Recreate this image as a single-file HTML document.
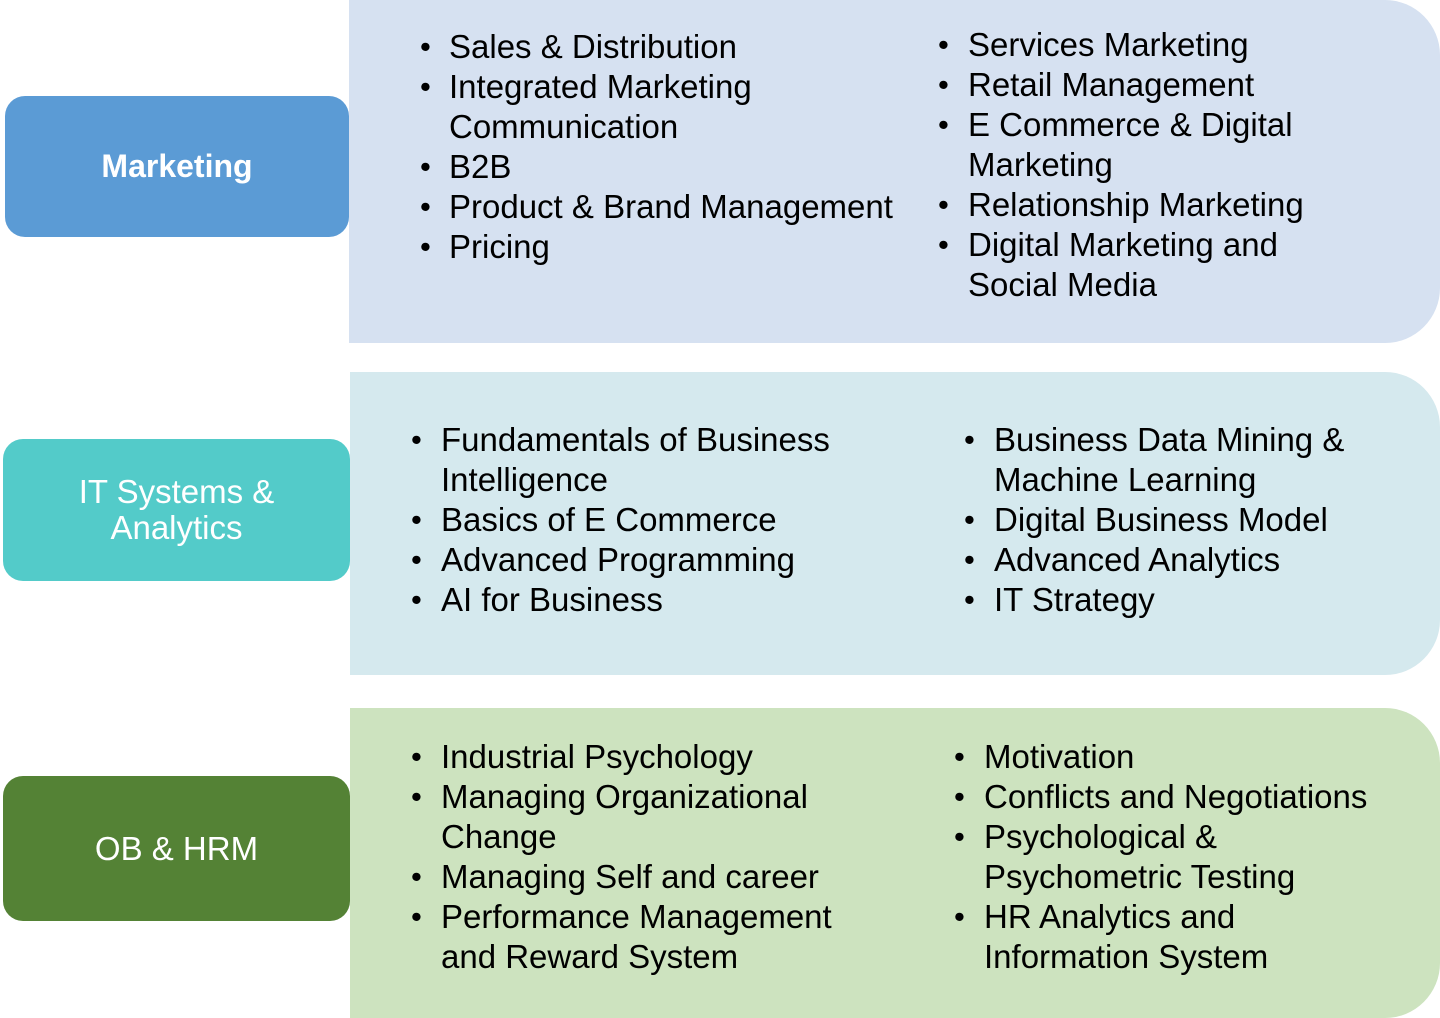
<!DOCTYPE html>
<html><head><meta charset="utf-8"><style>
body{margin:0;width:1440px;height:1018px;position:relative;background:#fff;font-family:"Liberation Sans",Arial,sans-serif;overflow:hidden}
.p{position:absolute}
.l{position:absolute;font-size:33px;line-height:40px;height:40px;white-space:nowrap;color:#000}
.b{position:absolute;font-size:31px;line-height:40px;color:#000}
.h{position:absolute;color:#fff;display:flex;align-items:center;justify-content:center;text-align:center;border-radius:20px}
</style></head><body>
<div class="p" style="left:349px;top:0;width:1091px;height:343px;background:#d6e1f1;border-radius:0 55px 55px 0"></div>
<div class="p" style="left:350px;top:372px;width:1090px;height:303px;background:#d5e9ee;border-radius:0 55px 55px 0"></div>
<div class="p" style="left:350px;top:708px;width:1090px;height:310px;background:#cde3bf;border-radius:0 55px 55px 0"></div>

<div class="h" style="left:5px;top:96px;width:344px;height:141px;background:#5b9bd5;font-size:32px;font-weight:bold">Marketing</div>
<div class="h" style="left:3px;top:439px;width:347px;height:142px;background:#53cbc9;font-size:33px;line-height:36px">IT Systems &amp;<br>Analytics</div>
<div class="h" style="left:3px;top:776px;width:347px;height:145px;background:#548235;font-size:33px">OB &amp; HRM</div>

<div class="b" style="left:420px;top:27px">•</div><div class="l" style="left:449px;top:27px">Sales &amp; Distribution</div>
<div class="b" style="left:420px;top:67px">•</div><div class="l" style="left:449px;top:67px">Integrated Marketing</div>
<div class="l" style="left:449px;top:107px">Communication</div>
<div class="b" style="left:420px;top:147px">•</div><div class="l" style="left:449px;top:147px">B2B</div>
<div class="b" style="left:420px;top:187px">•</div><div class="l" style="left:449px;top:187px">Product &amp; Brand Management</div>
<div class="b" style="left:420px;top:227px">•</div><div class="l" style="left:449px;top:227px">Pricing</div>

<div class="b" style="left:938px;top:25px">•</div><div class="l" style="left:968px;top:25px">Services Marketing</div>
<div class="b" style="left:938px;top:65px">•</div><div class="l" style="left:968px;top:65px">Retail Management</div>
<div class="b" style="left:938px;top:105px">•</div><div class="l" style="left:968px;top:105px">E Commerce &amp; Digital</div>
<div class="l" style="left:968px;top:145px">Marketing</div>
<div class="b" style="left:938px;top:185px">•</div><div class="l" style="left:968px;top:185px">Relationship Marketing</div>
<div class="b" style="left:938px;top:225px">•</div><div class="l" style="left:968px;top:225px">Digital Marketing and</div>
<div class="l" style="left:968px;top:265px">Social Media</div>

<div class="b" style="left:411px;top:420px">•</div><div class="l" style="left:441px;top:420px">Fundamentals of Business</div>
<div class="l" style="left:441px;top:460px">Intelligence</div>
<div class="b" style="left:411px;top:500px">•</div><div class="l" style="left:441px;top:500px">Basics of E Commerce</div>
<div class="b" style="left:411px;top:540px">•</div><div class="l" style="left:441px;top:540px">Advanced Programming</div>
<div class="b" style="left:411px;top:580px">•</div><div class="l" style="left:441px;top:580px">AI for Business</div>

<div class="b" style="left:964px;top:420px">•</div><div class="l" style="left:994px;top:420px">Business Data Mining &amp;</div>
<div class="l" style="left:994px;top:460px">Machine Learning</div>
<div class="b" style="left:964px;top:500px">•</div><div class="l" style="left:994px;top:500px">Digital Business Model</div>
<div class="b" style="left:964px;top:540px">•</div><div class="l" style="left:994px;top:540px">Advanced Analytics</div>
<div class="b" style="left:964px;top:580px">•</div><div class="l" style="left:994px;top:580px">IT Strategy</div>

<div class="b" style="left:411px;top:737px">•</div><div class="l" style="left:441px;top:737px">Industrial Psychology</div>
<div class="b" style="left:411px;top:777px">•</div><div class="l" style="left:441px;top:777px">Managing Organizational</div>
<div class="l" style="left:441px;top:817px">Change</div>
<div class="b" style="left:411px;top:857px">•</div><div class="l" style="left:441px;top:857px">Managing Self and career</div>
<div class="b" style="left:411px;top:897px">•</div><div class="l" style="left:441px;top:897px">Performance Management</div>
<div class="l" style="left:441px;top:937px">and Reward System</div>

<div class="b" style="left:954px;top:737px">•</div><div class="l" style="left:984px;top:737px">Motivation</div>
<div class="b" style="left:954px;top:777px">•</div><div class="l" style="left:984px;top:777px">Conflicts and Negotiations</div>
<div class="b" style="left:954px;top:817px">•</div><div class="l" style="left:984px;top:817px">Psychological &amp;</div>
<div class="l" style="left:984px;top:857px">Psychometric Testing</div>
<div class="b" style="left:954px;top:897px">•</div><div class="l" style="left:984px;top:897px">HR Analytics and</div>
<div class="l" style="left:984px;top:937px">Information System</div>
</body></html>
